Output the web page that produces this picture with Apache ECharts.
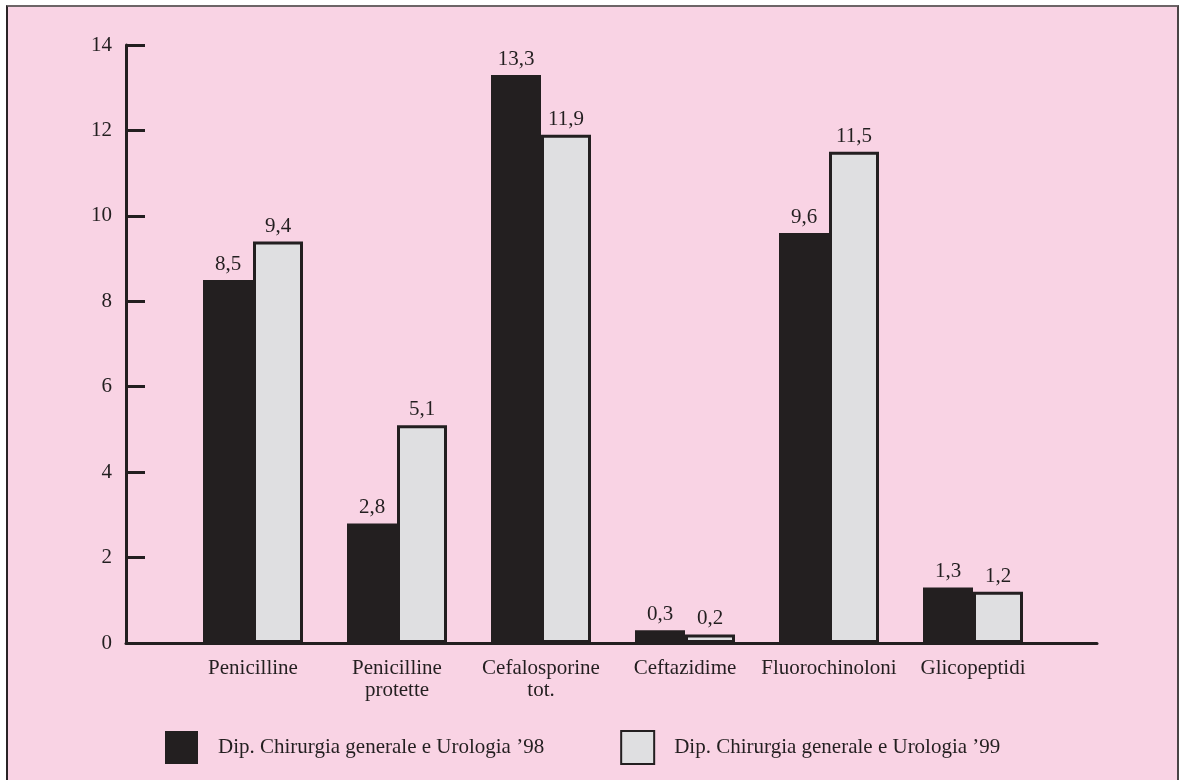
<!DOCTYPE html>
<html>
<head>
<meta charset="utf-8">
<title>Consumo antibiotici</title>
<script src="https://cdn.jsdelivr.net/npm/echarts@6/dist/echarts.min.js"></script>
<style>
  html, body { margin: 0; padding: 0; background: #ffffff; }
  #frame {
    position: absolute; left: 6px; top: 5px; width: 1169px; height: 790px;
    background: #f9d3e4;
    border-left: 2px solid #2a2426; border-top: 2px solid #6d6567; border-right: 2px solid #4a4446;
  }
  #chart { position: absolute; left: 0; top: 0; width: 1180px; height: 780px; }
</style>
</head>
<body>
<div id="frame"></div>
<div id="chart"></div>
<script>
// Classi di antibiotici
const categories = ['Penicilline', 'Penicilline\nprotette', 'Cefalosporine\ntot.', 'Ceftazidime', 'Fluorochinoloni', 'Glicopeptidi'];
// Nomi delle serie
const seriesNames = ['Dip. Chirurgia generale e Urologia \u201998', 'Dip. Chirurgia generale e Urologia \u201999'];
// Valori per anno
const values98 = [8.5, 2.8, 13.3, 0.3, 9.6, 1.3];
const values99 = [9.4, 5.1, 11.9, 0.2, 11.5, 1.2];
// Scala dell'asse verticale
const yMin = 0, yMax = 14, yStep = 2;

const ink = '#231f20';
const font = '"Liberation Serif", "DejaVu Serif", serif';
const fmt = p => String(p.value).replace('.', ',');

const chart = echarts.init(document.getElementById('chart'), null, { renderer: 'canvas' });
chart.setOption({
  backgroundColor: 'transparent',
  animation: false,
  textStyle: { fontFamily: font, color: ink },
  legend: {
    left: 165, top: 730, padding: 0,
    itemWidth: 33, itemHeight: 33, itemGap: 76,
    icon: 'rect',
    textStyle: { fontFamily: font, fontSize: 21, color: ink, padding: [0, 0, 0, 15] },
    data: seriesNames
  },
  grid: [
    // cornice: linee degli assi
    { left: 126, right: 83, top: 45, bottom: 137 },
    // barre
    { left: 181, width: 864, top: 45, bottom: 137 }
  ],
  xAxis: [
    {
      gridIndex: 0, type: 'value', min: 0, max: 1,
      axisLine: { show: true, lineStyle: { color: ink, width: 3 } },
      axisTick: { show: false }, axisLabel: { show: false }, splitLine: { show: false }
    },
    {
      gridIndex: 1, type: 'category', data: categories,
      axisLine: { show: false }, axisTick: { show: false }, splitLine: { show: false },
      axisLabel: { interval: 0, margin: 14, fontFamily: font, fontSize: 21, lineHeight: 22, color: ink }
    }
  ],
  yAxis: [
    {
      gridIndex: 0, type: 'value', min: yMin, max: yMax, interval: yStep,
      axisLine: { show: true, lineStyle: { color: ink, width: 3 } },
      axisTick: { show: true, inside: true, length: 19, lineStyle: { color: ink, width: 3 } },
      axisLabel: { margin: 14, fontFamily: font, fontSize: 21, color: ink },
      splitLine: { show: false }
    },
    {
      gridIndex: 1, type: 'value', min: yMin, max: yMax, show: false, splitLine: { show: false }
    }
  ],
  series: [
    {
      name: seriesNames[0], type: 'bar', xAxisIndex: 1, yAxisIndex: 1,
      data: values98, barWidth: 50, barGap: '0%',
      itemStyle: { color: ink },
      label: { show: true, position: 'top', distance: 5, formatter: fmt, fontFamily: font, fontSize: 21, color: ink }
    },
    {
      name: seriesNames[1], type: 'bar', xAxisIndex: 1, yAxisIndex: 1,
      data: values99, barWidth: 50, barGap: '0%',
      itemStyle: { color: '#dfdfe1', borderColor: ink, borderWidth: 3 },
      label: { show: true, position: 'top', distance: 5, formatter: fmt, fontFamily: font, fontSize: 21, color: ink }
    }
  ]
});
</script>
</body>
</html>
